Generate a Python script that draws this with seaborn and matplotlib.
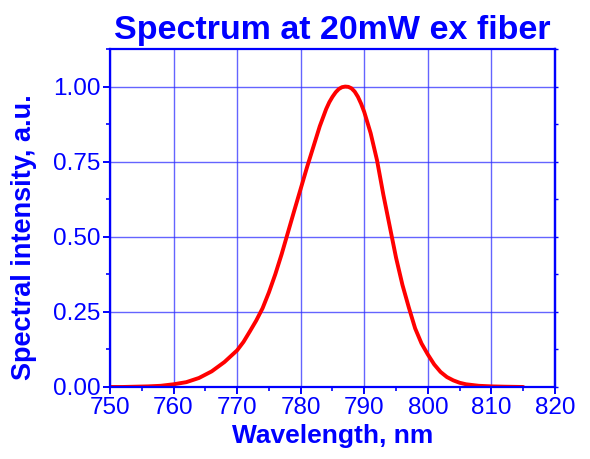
import matplotlib
matplotlib.use('Agg')
import matplotlib.pyplot as plt
from matplotlib.ticker import MultipleLocator
import seaborn as sns
import pandas as pd

# spectrum
wavelength = [750, 752, 754, 756, 758, 760, 762, 764, 766, 768, 770, 771, 772, 773,
              774, 775, 776, 777, 778, 779, 780, 781, 782, 783, 784, 784.5, 785,
              785.5, 786, 786.5, 787, 787.5, 788, 788.5, 789, 789.5, 790, 791, 792,
              793, 794, 795, 796, 797, 798, 799, 800, 801, 802, 803, 804, 805, 806,
              808, 810, 812, 815]
intensity = [0.000, 0.000, 0.001, 0.002, 0.004, 0.009, 0.016, 0.030, 0.052, 0.083,
             0.122, 0.150, 0.185, 0.221, 0.262, 0.315, 0.375, 0.442, 0.515, 0.588,
             0.660, 0.732, 0.800, 0.868, 0.925, 0.948, 0.966, 0.981, 0.992, 0.998,
             1.000, 0.999, 0.994, 0.983, 0.966, 0.943, 0.915, 0.845, 0.755, 0.640,
             0.535, 0.430, 0.340, 0.265, 0.195, 0.145, 0.108, 0.075, 0.050, 0.033,
             0.022, 0.014, 0.009, 0.004, 0.002, 0.001, 0.000]
xticks = [750, 760, 770, 780, 790, 800, 810, 820]
yticks = [0.0, 0.25, 0.5, 0.75, 1.0]

df = pd.DataFrame({'wavelength': wavelength, 'intensity': intensity})

sns.set_style('white')
plt.rcParams['font.family'] = ['Liberation Sans', 'DejaVu Sans']
blue = '#0000ff'

fig = plt.figure(figsize=(5.9, 4.59), dpi=100)
ax = fig.add_axes([0.1864, 0.1569, 0.7543, 0.7363])

sns.lineplot(data=df, x='wavelength', y='intensity', color='#ff0000', linewidth=2.8, ax=ax)

ax.set_xlim(750, 820)
ax.set_ylim(0, 1.125)
ax.set_xticks(xticks)
ax.set_yticks(yticks)
ax.set_yticklabels([f'{v:.2f}' for v in yticks])
ax.xaxis.set_minor_locator(MultipleLocator(5))
ax.yaxis.set_minor_locator(MultipleLocator(0.125))

ax.grid(True, which='major', color='#3030ff', alpha=0.75, linewidth=1.0)
for s in ax.spines.values():
    s.set_color(blue)
    s.set_linewidth(1.6)
    s.set_visible(True)

ax.tick_params(axis='both', which='major', direction='out', length=5, width=1.4,
               colors=blue, labelsize=17.5, pad=2)
ax.tick_params(axis='both', which='minor', direction='out', length=3, width=1.2,
               colors=blue)
ax.tick_params(axis='y', which='both', left=True)
ax.tick_params(axis='x', which='both', bottom=True)
# tiny ticks on the right spine
ax2 = ax.secondary_yaxis('right')
ax2.set_yticks(yticks)
ax2.yaxis.set_minor_locator(MultipleLocator(0.125))
ax2.tick_params(which='both', length=2, width=1.0, colors=blue, labelright=False)
ax2.spines['right'].set_color(blue)
ax2.spines['right'].set_linewidth(1.6)

ax.set_xlabel('Wavelength, nm', fontsize=19, fontweight='bold', color=blue, labelpad=4)
ax.set_ylabel('Spectral intensity, a.u.', fontsize=19.5, fontweight='bold', color=blue)
ax.yaxis.set_label_coords(-0.164, 0.444)
ax.set_title('Spectrum at 20mW ex fiber', fontsize=24.5, fontweight='bold', color=blue, pad=7)

fig.savefig('out.png', dpi=100)
